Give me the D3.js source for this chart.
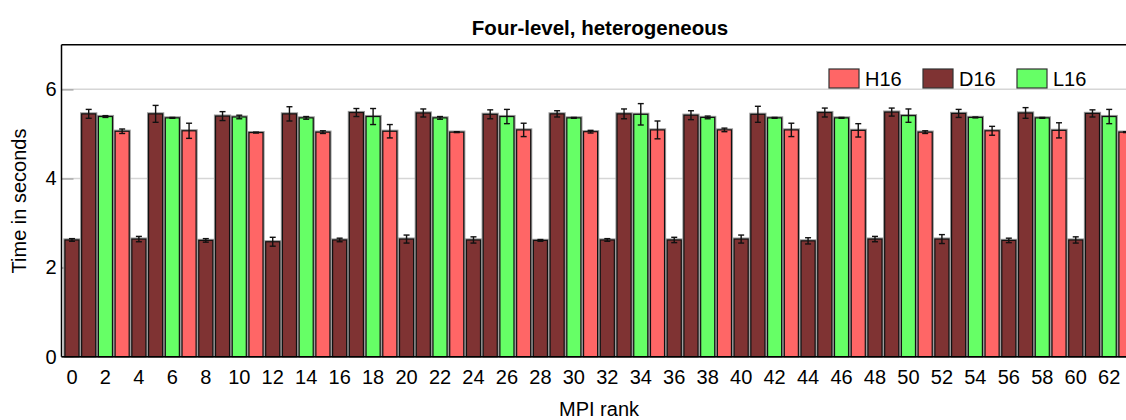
<!DOCTYPE html>
<html><head><meta charset="utf-8">
<script src="https://cdn.jsdelivr.net/npm/d3@7"></script>
<style>
html,body{margin:0;padding:0;background:#fff;}
svg{display:block;font-family:"Liberation Sans",Arial,Helvetica,sans-serif;}
</style></head>
<body><svg id="chart" width="1126" height="420"></svg>
<script>
const title = "Four-level, heterogeneous";
const xLabel = "MPI rank";
const yLabel = "Time in seconds";
const seriesNames = ["H16", "D16", "L16"];
const seriesColors = ["#ff6666", "#7f3333", "#66ff66"];
const ranks = [0,1,2,3,4,5,6,7,8,9,10,11,12,13,14,15,16,17,18,19,20,21,22,23,24,25,26,27,28,29,30,31,
               32,33,34,35,36,37,38,39,40,41,42,43,44,45,46,47,48,49,50,51,52,53,54,55,56,57,58,59,60,61,62,63];
const rankSeries = ["D16","D16","L16","H16","D16","D16","L16","H16","D16","D16","L16","H16","D16","D16","L16","H16",
                    "D16","D16","L16","H16","D16","D16","L16","H16","D16","D16","L16","H16","D16","D16","L16","H16",
                    "D16","D16","L16","H16","D16","D16","L16","H16","D16","D16","L16","H16","D16","D16","L16","H16",
                    "D16","D16","L16","H16","D16","D16","L16","H16","D16","D16","L16","H16","D16","D16","L16","H16"];
const times = [2.62,5.45,5.39,5.06, 2.64,5.45,5.36,5.07, 2.61,5.40,5.38,5.03, 2.58,5.45,5.36,5.04,
               2.62,5.48,5.39,5.06, 2.64,5.47,5.36,5.04, 2.62,5.44,5.39,5.09, 2.61,5.45,5.36,5.05,
               2.62,5.45,5.44,5.09, 2.62,5.42,5.37,5.09, 2.64,5.44,5.36,5.09, 2.60,5.48,5.36,5.08,
               2.64,5.49,5.41,5.04, 2.64,5.46,5.37,5.07, 2.61,5.47,5.36,5.08, 2.62,5.46,5.39,5.04];
const errors = [0.03,0.10,0.02,0.05, 0.06,0.19,0.01,0.17, 0.04,0.10,0.04,0.01, 0.10,0.16,0.03,0.03,
                0.04,0.09,0.18,0.15, 0.09,0.09,0.03,0.01, 0.07,0.10,0.16,0.15, 0.02,0.07,0.01,0.03,
                0.03,0.11,0.24,0.20, 0.06,0.10,0.03,0.04, 0.09,0.18,0.01,0.15, 0.07,0.10,0.01,0.15,
                0.06,0.09,0.15,0.03, 0.10,0.09,0.01,0.10, 0.05,0.12,0.01,0.17, 0.07,0.08,0.16,0.01];
const yTicks = [0,2,4,6];
const xTickLabels = ranks.filter(r => r % 2 === 0);

(function () {
const svg = d3.select("#chart");
const pL = 61.5, pT = 44.8, pB = 356.7, pR = 1138;
const x = d3.scaleBand().domain(ranks).range([63.6, 1134.3]).paddingInner(0.16).paddingOuter(0.08);
const y = d3.scaleLinear().domain([0, 7]).range([pB, pT]);
const color = d3.scaleOrdinal().domain(seriesNames).range(seriesColors);

// grid
svg.append("g").selectAll("line").data(yTicks.filter(t => t > 0)).join("line")
  .attr("x1", pL).attr("x2", pR).attr("y1", d => y(d)).attr("y2", d => y(d))
  .attr("stroke", "#d6d6d6").attr("stroke-width", 1.5);

// y axis
const yAxis = svg.append("g").attr("transform", `translate(${pL},0)`)
  .call(d3.axisLeft(y).tickValues(yTicks).tickSize(-12).tickPadding(5).tickFormat(d3.format("d")));
yAxis.select(".domain").remove();
yAxis.selectAll(".tick line").attr("stroke", "#aaa").attr("stroke-width", 1.5);
yAxis.selectAll(".tick text").attr("font-size", 20).attr("fill", "#000")
  .attr("font-family", "Liberation Sans, Arial, sans-serif");

// bars
const bars = svg.append("g");
bars.selectAll("rect.halo").data(ranks).join("rect").attr("class", "halo")
  .attr("x", d => x(d) - 0.5).attr("width", x.bandwidth() + 1)
  .attr("y", (d, i) => y(times[i]) - 0.5).attr("height", (d, i) => pB - y(times[i]) + 0.5)
  .attr("fill", "none").attr("stroke", "#999").attr("stroke-width", 2.2);
bars.selectAll("rect.bar").data(ranks).join("rect").attr("class", "bar")
  .attr("x", d => x(d)).attr("width", x.bandwidth())
  .attr("y", (d, i) => y(times[i])).attr("height", (d, i) => pB - y(times[i]))
  .attr("fill", (d, i) => color(rankSeries[i])).attr("stroke", "#111").attr("stroke-width", 1.2);

// error bars
const eg = svg.append("g").attr("stroke", "#111").attr("stroke-width", 1.4);
ranks.forEach((r, i) => {
  const cx = x(r) + x.bandwidth() / 2;
  const y1 = y(times[i] + errors[i]), y2 = y(times[i] - errors[i]);
  eg.append("line").attr("x1", cx).attr("x2", cx).attr("y1", y1).attr("y2", y2);
  eg.append("line").attr("x1", cx - 3).attr("x2", cx + 3).attr("y1", y1).attr("y2", y1);
  eg.append("line").attr("x1", cx - 3).attr("x2", cx + 3).attr("y1", y2).attr("y2", y2);
});

// frame
svg.append("line").attr("x1", pL).attr("x2", pR).attr("y1", pT).attr("y2", pT).attr("stroke", "#000").attr("stroke-width", 1.5);
svg.append("line").attr("x1", pL).attr("x2", pL).attr("y1", pT).attr("y2", pB).attr("stroke", "#000").attr("stroke-width", 1.5);
svg.append("line").attr("x1", pL).attr("x2", pR).attr("y1", pB).attr("y2", pB).attr("stroke", "#000").attr("stroke-width", 1.5);

// x axis labels
const xAxis = svg.append("g").attr("transform", `translate(0,${pB})`)
  .call(d3.axisBottom(x).tickValues(xTickLabels).tickSize(0).tickPadding(13));
xAxis.select(".domain").remove();
xAxis.selectAll(".tick text").attr("font-size", 20).attr("fill", "#000")
  .attr("font-family", "Liberation Sans, Arial, sans-serif");

// titles
svg.append("text").attr("x", 600).attr("y", 35).attr("text-anchor", "middle")
  .attr("font-size", 20.5).attr("font-weight", "bold").text(title);
svg.append("text").attr("x", 599).attr("y", 416).attr("text-anchor", "middle")
  .attr("font-size", 20).text(xLabel);
svg.append("text").attr("transform", "translate(26,201) rotate(-90)").attr("text-anchor", "middle")
  .attr("font-size", 20).text(yLabel);

// legend
const legendX = [829, 923, 1017];
const lg = svg.append("g");
seriesNames.forEach((s, i) => {
  lg.append("rect").attr("x", legendX[i]).attr("y", 69).attr("width", 30).attr("height", 19)
    .attr("fill", color(s)).attr("stroke", "#333").attr("stroke-width", 1.2);
  lg.append("text").attr("x", legendX[i] + 36).attr("y", 86).attr("font-size", 20).text(s);
});
})();
</script></body></html>
